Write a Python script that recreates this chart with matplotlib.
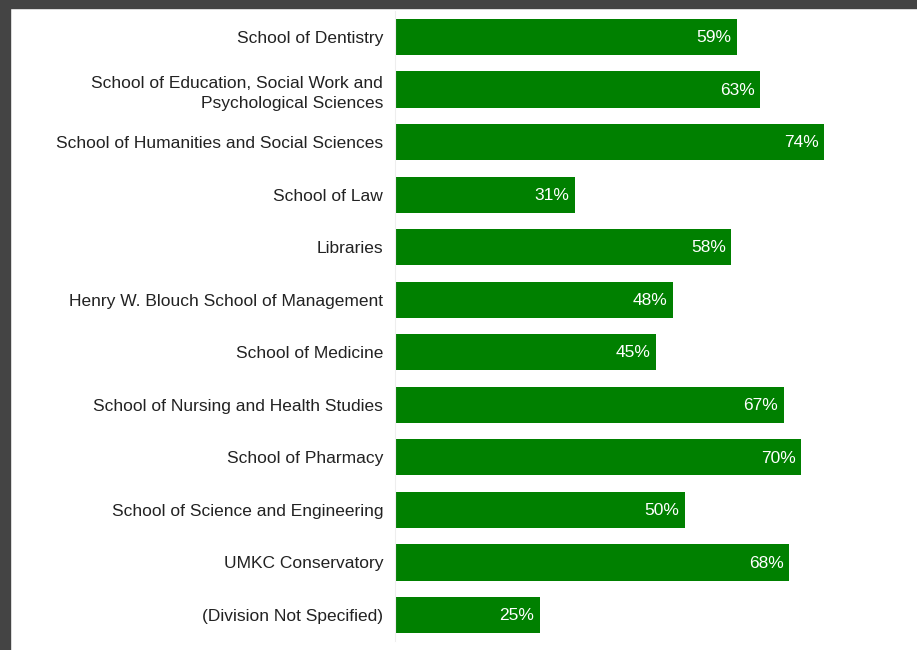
import matplotlib.pyplot as plt
from matplotlib.patches import Rectangle

plt.rcParams['font.family'] = ['Liberation Sans', 'DejaVu Sans']

divisions = [
    "School of Dentistry",
    "School of Education, Social Work and\nPsychological Sciences",
    "School of Humanities and Social Sciences",
    "School of Law",
    "Libraries",
    "Henry W. Blouch School of Management",
    "School of Medicine",
    "School of Nursing and Health Studies",
    "School of Pharmacy",
    "School of Science and Engineering",
    "UMKC Conservatory",
    "(Division Not Specified)",
]
pct = [59, 63, 74, 31, 58, 48, 45, 67, 70, 50, 68, 25]

W, H = 917, 650
fig = plt.figure(figsize=(W / 100, H / 100), dpi=100)
fig.patch.set_facecolor("white")

# axes placed in pixel terms: left at x=395, band area y 10.75..641.25
left, right = 395, 917
top, bottom = 10.75, 641.25
ax = fig.add_axes([left / W, 1 - bottom / H, (right - left) / W, (bottom - top) / H])

y = list(range(len(divisions)))
ax.barh(y, pct, height=0.69, color="#008000")
ax.set_ylim(len(divisions) - 0.5, -0.5)
ax.set_xlim(0, (right - left) / 5.8)

for yi, v in zip(y, pct):
    ax.annotate(f"{v}%", (v, yi), xytext=(-4, -0.5), textcoords="offset points",
                ha="right", va="center", color="white", fontsize=12.5)

ax.set_yticks(y)
ax.set_yticklabels(divisions, fontsize=12.5, color="#222222", linespacing=1.4)
ax.tick_params(axis="y", length=0, pad=8.5)
ax.set_xticks([])
for s in ["top", "right", "bottom"]:
    ax.spines[s].set_visible(False)
ax.spines["left"].set_color("#eeeeee")
for lbl in ax.get_yticklabels():
    lbl.set_horizontalalignment("right")

# dark frame strips at top and left of the screenshot
fig.patches.append(Rectangle((0, 1 - 8 / H), 1, 8 / H, transform=fig.transFigure,
                             color="#444444", zorder=10))
fig.patches.append(Rectangle((0, 0), 10 / W, 1, transform=fig.transFigure,
                             color="#444444", zorder=10))

fig.savefig("out.png", dpi=100)
